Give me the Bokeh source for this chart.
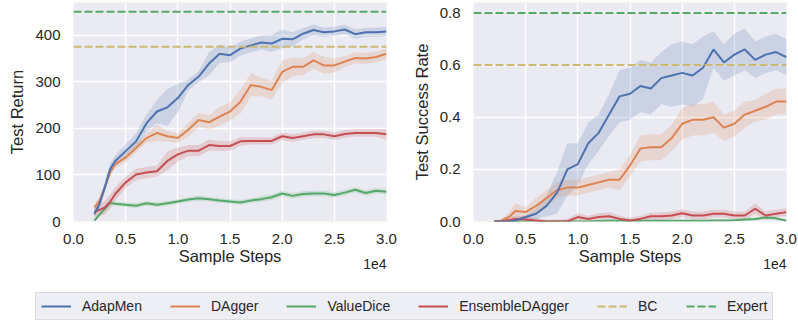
from bokeh.plotting import figure
from bokeh.layouts import column, row
from bokeh.models import Span, Label, Legend, LegendItem, FixedTicker, Range1d
from bokeh.embed import file_html
from bokeh.resources import INLINE

# ---------------- data ----------------
steps = [2000, 2500, 3000, 3500, 4000, 5000, 6000, 7000, 8000, 9000, 10000,
         11000, 12000, 13000, 14000, 15000, 16000, 17000, 18000, 19000, 20000,
         21000, 22000, 23000, 24000, 25000, 26000, 27000, 28000, 29000, 30000]

# Left panel: Test Return
ret_adapmen = [16, 38, 73, 112, 130, 151, 172, 211, 236, 245, 265, 293, 311, 339, 360, 357,
               371, 378, 384, 382, 392, 391, 403, 411, 406, 408, 412, 402, 406, 406, 408]
ret_adapmen_sd = [8, 10, 12, 12, 12, 15, 18, 18, 25, 40, 30, 12, 12, 25, 20, 15,
                  15, 15, 15, 18, 20, 15, 12, 12, 10, 10, 10, 10, 10, 10, 10]
ret_dagger = [30, 45, 73, 105, 123, 137, 158, 179, 190, 183, 179, 197, 218, 213, 225, 236,
              257, 293, 289, 282, 321, 332, 332, 346, 335, 335, 343, 351, 350, 353, 360]
ret_dagger_sd = [8, 8, 8, 8, 8, 10, 10, 10, 18, 12, 10, 15, 15, 15, 20, 20,
                 25, 25, 20, 20, 25, 20, 18, 18, 18, 15, 12, 12, 12, 12, 12]
ret_valuedice = [2, 15, 27, 40, 38, 36, 34, 39, 36, 39, 43, 47, 50, 48, 45, 43,
                 41, 45, 48, 52, 60, 55, 59, 60, 60, 57, 62, 68, 61, 66, 64]
ret_valuedice_sd = [3, 4, 5, 5, 5, 5, 5, 5, 5, 5, 5, 5, 6, 5, 5, 5,
                    5, 5, 6, 6, 6, 6, 6, 6, 6, 6, 6, 6, 6, 6, 6]
ret_ensemble = [20, 25, 30, 42, 59, 84, 101, 105, 108, 130, 144, 152, 152, 164, 162, 162,
                172, 173, 173, 173, 183, 179, 183, 187, 187, 183, 188, 190, 190, 190, 187]
ret_ensemble_sd = [10, 12, 15, 15, 15, 12, 12, 12, 12, 20, 15, 12, 12, 12, 10, 10,
                   10, 8, 8, 8, 8, 8, 8, 8, 8, 8, 8, 8, 8, 8, 12]
ret_bc = 375
ret_expert = 450

# Right panel: Test Success Rate
sr_adapmen = [0, 0, 0, 0, 0.004, 0.017, 0.03, 0.06, 0.11, 0.20, 0.22, 0.30, 0.34, 0.41, 0.48, 0.49,
              0.52, 0.51, 0.55, 0.56, 0.57, 0.56, 0.59, 0.66, 0.61, 0.64, 0.66, 0.62, 0.64, 0.65, 0.63]
sr_adapmen_sd = [0, 0, 0, 0.003, 0.005, 0.01, 0.02, 0.04, 0.08, 0.10, 0.08, 0.08, 0.07, 0.08, 0.10, 0.10,
                 0.10, 0.10, 0.10, 0.12, 0.12, 0.12, 0.12, 0.07, 0.07, 0.08, 0.08, 0.07, 0.07, 0.07, 0.07]
sr_dagger = [0, 0, 0.01, 0.02, 0.04, 0.036, 0.06, 0.09, 0.12, 0.13, 0.13, 0.14, 0.15, 0.16, 0.16, 0.215,
             0.28, 0.285, 0.285, 0.32, 0.375, 0.39, 0.39, 0.40, 0.36, 0.375, 0.41, 0.425, 0.44, 0.46, 0.46]
sr_dagger_sd = [0, 0.003, 0.01, 0.02, 0.03, 0.02, 0.03, 0.03, 0.03, 0.03, 0.03, 0.03, 0.03, 0.03, 0.04, 0.04,
                0.05, 0.05, 0.05, 0.05, 0.06, 0.06, 0.06, 0.06, 0.05, 0.05, 0.05, 0.04, 0.05, 0.05, 0.05]
sr_valuedice = [0, 0, 0, 0, 0, 0, 0, 0, 0, 0, 0, 0, 0.002, 0.003, 0.003, 0.002,
                0.003, 0.003, 0.003, 0.003, 0.003, 0.003, 0.003, 0.004, 0.004, 0.005, 0.008, 0.01, 0.015, 0.012, 0.003]
sr_valuedice_sd = [0, 0, 0, 0, 0, 0, 0, 0, 0, 0, 0, 0, 0.002, 0.002, 0.002, 0.002,
                   0.002, 0.002, 0.002, 0.002, 0.002, 0.002, 0.002, 0.003, 0.003, 0.004, 0.005, 0.005, 0.006, 0.006, 0.004]
sr_ensemble = [0, 0, 0.003, 0.006, 0.01, 0.008, 0.004, 0, 0, 0, 0.017, 0.01, 0.017, 0.02, 0.01, 0.004,
               0.01, 0.02, 0.02, 0.023, 0.032, 0.023, 0.023, 0.03, 0.03, 0.023, 0.023, 0.049, 0.023, 0.03, 0.036]
sr_ensemble_sd = [0.005, 0.008, 0.01, 0.01, 0.012, 0.012, 0.01, 0.005, 0.008, 0.01, 0.015, 0.012, 0.015, 0.015, 0.012, 0.01,
                  0.012, 0.015, 0.015, 0.015, 0.015, 0.015, 0.015, 0.015, 0.015, 0.015, 0.015, 0.02, 0.015, 0.015, 0.015]
sr_bc = 0.6
sr_expert = 0.8

x_ticks = [0, 5000, 10000, 15000, 20000, 25000, 30000]
x_tick_labels = ["0.0", "0.5", "1.0", "1.5", "2.0", "2.5", "3.0"]
x_offset_text = "1e4"
ret_ticks = [0, 100, 200, 300, 400]
ret_tick_labels = ["0", "100", "200", "300", "400"]
sr_ticks = [0, 0.2, 0.4, 0.6, 0.8]
sr_tick_labels = ["0.0", "0.2", "0.4", "0.6", "0.8"]

methods = ["AdapMen", "DAgger", "ValueDice", "EnsembleDAgger"]
colors = {"AdapMen": "#4C72B0", "DAgger": "#DD8452", "ValueDice": "#55A868",
          "EnsembleDAgger": "#C44E52", "BC": "#CCB974", "Expert": "#55A868"}

FONT = "Liberation Sans"
TXT = "#262626"


def panel(width, right_border, y_end, yticks, ylabels, ylabel, means, sds, bc, expert):
    p = figure(width=width, height=280, x_range=Range1d(0, 30000), y_range=Range1d(0, y_end),
               output_backend="svg", toolbar_location=None,
               min_border_left=73, min_border_right=right_border,
               min_border_top=2, min_border_bottom=59)
    p.background_fill_color = "#EAEAF2"
    p.border_fill_color = "white"
    p.outline_line_color = None
    p.grid.grid_line_color = "white"
    p.grid.grid_line_width = 1.4
    p.xaxis.ticker = FixedTicker(ticks=x_ticks)
    p.xaxis.major_label_overrides = {t: l for t, l in zip(x_ticks, x_tick_labels)}
    p.yaxis.ticker = FixedTicker(ticks=yticks)
    p.yaxis.major_label_overrides = {t: l for t, l in zip(yticks, ylabels)}
    for ax in (p.xaxis, p.yaxis):
        ax.axis_line_color = None
        ax.major_tick_line_color = None
        ax.minor_tick_line_color = None
        ax.major_tick_out = 0
        ax.major_tick_in = 0
        ax.major_label_text_font = FONT
        ax.major_label_text_font_size = "15px"
        ax.major_label_text_color = TXT
        ax.axis_label_text_font = FONT
        ax.axis_label_text_font_size = "16.5px"
        ax.axis_label_text_font_style = "normal"
        ax.axis_label_text_color = TXT
    p.xaxis.axis_label = "Sample Steps"
    p.yaxis.axis_label = ylabel
    p.xaxis.major_label_standoff = 12
    p.xaxis.axis_label_standoff = 0
    p.yaxis.major_label_standoff = 13
    p.yaxis.axis_label_standoff = 6

    for m in methods:
        lo = [a - b for a, b in zip(means[m], sds[m])]
        hi = [a + b for a, b in zip(means[m], sds[m])]
        p.varea(x=steps, y1=lo, y2=hi, fill_color=colors[m], fill_alpha=0.2)
    for m in ["ValueDice", "EnsembleDAgger", "DAgger", "AdapMen"]:
        p.line(steps, means[m], line_color=colors[m], line_width=2)
    p.add_layout(Span(location=bc, dimension="width", line_color=colors["BC"],
                      line_width=2, line_dash="8 3"))
    p.add_layout(Span(location=expert, dimension="width", line_color=colors["Expert"],
                      line_width=2, line_dash="8 3"))
    # offset text below the x axis, right-aligned with the frame
    p.add_layout(Label(x=x_ticks[-1], y=14, x_units="data", y_units="screen", text=x_offset_text,
                       text_align="right", text_baseline="middle", text_font=FONT,
                       text_font_size="14px", text_color=TXT), "below")
    return p


p1 = panel(400, 14, 470, ret_ticks, ret_tick_labels, "Test Return",
           {"AdapMen": ret_adapmen, "DAgger": ret_dagger, "ValueDice": ret_valuedice,
            "EnsembleDAgger": ret_ensemble},
           {"AdapMen": ret_adapmen_sd, "DAgger": ret_dagger_sd, "ValueDice": ret_valuedice_sd,
            "EnsembleDAgger": ret_ensemble_sd},
           ret_bc, ret_expert)
p2 = panel(398, 12, 0.84, sr_ticks, sr_tick_labels, "Test Success Rate",
           {"AdapMen": sr_adapmen, "DAgger": sr_dagger, "ValueDice": sr_valuedice,
            "EnsembleDAgger": sr_ensemble},
           {"AdapMen": sr_adapmen_sd, "DAgger": sr_dagger_sd, "ValueDice": sr_valuedice_sd,
            "EnsembleDAgger": sr_ensemble_sd},
           sr_bc, sr_expert)

# legend strip (its lines lie outside the visible range; only legend swatches show)
pl = figure(width=798, height=42, x_range=Range1d(0, 1), y_range=Range1d(0, 1),
            x_axis_type=None, y_axis_type=None, toolbar_location=None,
            output_backend="svg", min_border=0)
pl.outline_line_color = None
pl.grid.visible = False
legend_series = {"AdapMen": ret_adapmen, "DAgger": ret_dagger, "ValueDice": ret_valuedice,
                 "EnsembleDAgger": ret_ensemble, "BC": [ret_bc] * len(steps),
                 "Expert": [ret_expert] * len(steps)}
items = []
for name in methods + ["BC", "Expert"]:
    dash = "8 3" if name in ("BC", "Expert") else "solid"
    r = pl.line(x=steps, y=legend_series[name], line_color=colors[name], line_width=2, line_dash=dash)
    items.append(LegendItem(label=name, renderers=[r]))
leg = Legend(items=items, orientation="horizontal", location=(35, 2),
             glyph_width=30, glyph_height=14, label_height=14, label_standoff=11,
             spacing=28, padding=5, margin=0,
             label_text_font=FONT, label_text_font_size="14px", label_text_color=TXT,
             background_fill_color="#EEEEF5", background_fill_alpha=1.0,
             border_line_color="#CCCCCC", border_line_width=1)
pl.add_layout(leg, "center")

layout = column(row(p1, p2), pl)
open("out.html", "w").write(file_html(layout, INLINE))
